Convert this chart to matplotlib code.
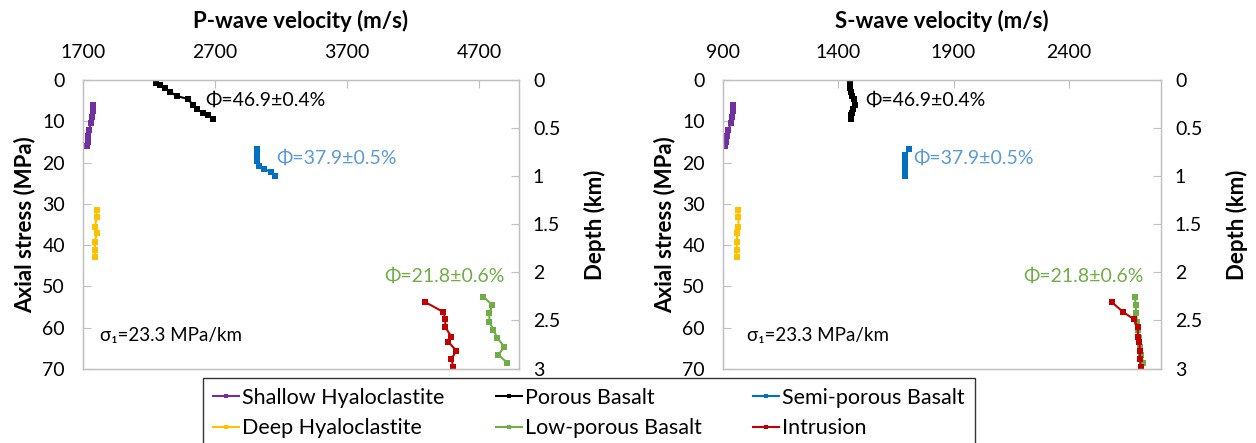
import matplotlib
matplotlib.use('Agg')
import matplotlib.pyplot as plt
import numpy as np

plt.rcParams['font.family'] = ['Lato', 'DejaVu Sans']

# 数据 (axial stress in MPa, velocities in m/s)
shallow_stress = [6, 7.5, 9, 10.5, 12, 13.5, 15, 16]
shallow_vp = [1776, 1776, 1768, 1761, 1745, 1738, 1738, 1734]
shallow_vs = [943, 943, 939, 935, 922, 917, 913, 909]

porous_stress = [0.7, 1.2, 1.9, 2.9, 3.9, 4.6, 6.1, 7.0, 8.0, 8.5, 9.4]
porous_vp = [2253, 2283, 2321, 2359, 2412, 2495, 2533, 2564, 2609, 2647, 2685]
porous_vs = [1452, 1452, 1453, 1455, 1460, 1470, 1472, 1465, 1458, 1456, 1455]

semi_stress = [16.8, 18.2, 19.6, 20.8, 21.5, 22.3, 23.2]
semi_vp = [3015, 3015, 3020, 3030, 3070, 3120, 3150]
semi_vs = [1705, 1690, 1688, 1688, 1688, 1688, 1688]

deep_stress = [31.5, 33.2, 35.6, 37.0, 39.2, 41.2, 42.9]
deep_vp = [1803, 1803, 1791, 1803, 1791, 1791, 1791]
deep_vs = [967, 967, 967, 961, 961, 959, 959]

low_stress = [52.5, 54.5, 56.4, 58.6, 60.5, 62.5, 64.6, 66.6, 68.5]
low_vp = [4730, 4798, 4776, 4776, 4806, 4836, 4889, 4844, 4912]
low_vs = [2687, 2690, 2692, 2696, 2700, 2705, 2710, 2715, 2722]

intr_stress = [53.8, 56.2, 57.9, 59.8, 62.2, 63.4, 65.6, 67.6, 69.5]
intr_vp = [4291, 4427, 4442, 4442, 4488, 4465, 4526, 4488, 4503]
intr_vs = [2586, 2636, 2681, 2699, 2700, 2706, 2709, 2708, 2712]

names = ['Shallow Hyaloclastite', 'Porous Basalt', 'Semi-porous Basalt',
         'Deep Hyaloclastite', 'Low-porous Basalt', 'Intrusion']
colors = ['#7030A0', '#000000', '#0070C0', '#FFC000', '#70AD47', '#C00000']

gradient = 23.3  # MPa/km

fig = plt.figure(figsize=(12.56, 4.43), dpi=100)
W, H = 1256, 443


def make_axes(x0, x1):
    return fig.add_axes([x0 / W, (H - 369) / H, (x1 - x0) / W, 289 / H])


def style_axes(ax, xlim, xticks, title):
    ax.set_xlim(*xlim)
    ax.set_ylim(70, 0)
    ax.set_xticks(xticks)
    ax.set_yticks(range(0, 71, 10))
    ax.xaxis.tick_top()
    ax.xaxis.set_label_position('top')
    ax.tick_params(axis='both', direction='in', length=6, color='#BFBFBF',
                   labelsize=14)
    ax.tick_params(axis='y', pad=13)
    ax.tick_params(axis='x', pad=14)
    for s in ax.spines.values():
        s.set_color('#BFBFBF')
        s.set_linewidth(1)
    ax.set_xlabel(title, fontsize=16, fontweight='bold', labelpad=11)
    ax.set_ylabel('Axial stress (MPa)', fontsize=16, fontweight='bold', labelpad=5)
    ax2 = ax.twinx()
    ax2.set_ylim(70 / gradient, 0)
    ax2.set_yticks([0, 0.5, 1, 1.5, 2, 2.5, 3])
    ax2.set_yticklabels(['0', '0.5', '1', '1.5', '2', '2.5', '3'])
    ax2.tick_params(axis='y', direction='in', length=6, color='#BFBFBF',
                    labelsize=14, pad=10)
    for s in ax2.spines.values():
        s.set_color('#BFBFBF')
    ax2.set_ylabel('Depth (km)', fontsize=16, fontweight='bold', labelpad=17)
    return ax2


def plot_series(ax, series):
    lines = []
    for (x, y), name, c in zip(series, names, colors):
        ln, = ax.plot(x, y, color=c, lw=1.5, marker='s', markersize=4,
                      markeredgewidth=0, label=name)
        lines.append(ln)
    return lines


# P-wave
axp = make_axes(83, 519)
style_axes(axp, (1700, 5000), [1700, 2700, 3700, 4700], 'P-wave velocity (m/s)')
handles = plot_series(axp, [(shallow_vp, shallow_stress), (porous_vp, porous_stress),
                            (semi_vp, semi_stress), (deep_vp, deep_stress),
                            (low_vp, low_stress), (intr_vp, intr_stress)])
axp.text(2624, 4.8, 'Φ=46.9±0.4%', fontsize=14, color='black', va='center')
axp.text(3162, 18.9, 'Φ=37.9±0.5%', fontsize=14, color='#5B9BD5', va='center')
axp.text(3980, 47.5, 'Φ=21.8±0.6%', fontsize=14, color='#70AD47', va='center')
axp.text(1829, 62, 'σ₁=23.3 MPa/km', fontsize=13.5, color='black', va='center')

# S-wave
axs = make_axes(723, 1161)
style_axes(axs, (900, 2800), [900, 1400, 1900, 2400], 'S-wave velocity (m/s)')
plot_series(axs, [(shallow_vs, shallow_stress), (porous_vs, porous_stress),
                  (semi_vs, semi_stress), (deep_vs, deep_stress),
                  (low_vs, low_stress), (intr_vs, intr_stress)])
axs.text(1517, 4.8, 'Φ=46.9±0.4%', fontsize=14, color='black', va='center')
axs.text(1726, 18.9, 'Φ=37.9±0.5%', fontsize=14, color='#5B9BD5', va='center')
axs.text(2204, 47.5, 'Φ=21.8±0.6%', fontsize=14, color='#70AD47', va='center')
axs.text(1004, 62, 'σ₁=23.3 MPa/km', fontsize=13.5, color='black', va='center')

# legend fills column by column, so reorder to get the rows right
order = [0, 3, 1, 4, 2, 5]
leg = fig.legend(handles=[handles[i] for i in order], ncol=3, loc='upper left',
                 bbox_to_anchor=(203 / W, (H - 378) / H), fontsize=15.5,
                 frameon=True, fancybox=False, edgecolor='black',
                 handlelength=1.2, handletextpad=0.15, columnspacing=2.4,
                 borderpad=0.45, labelspacing=0.5, markerscale=0.8,
                 borderaxespad=0)
leg.get_frame().set_linewidth(1)

fig.savefig('out.png', dpi=100, facecolor='white')
